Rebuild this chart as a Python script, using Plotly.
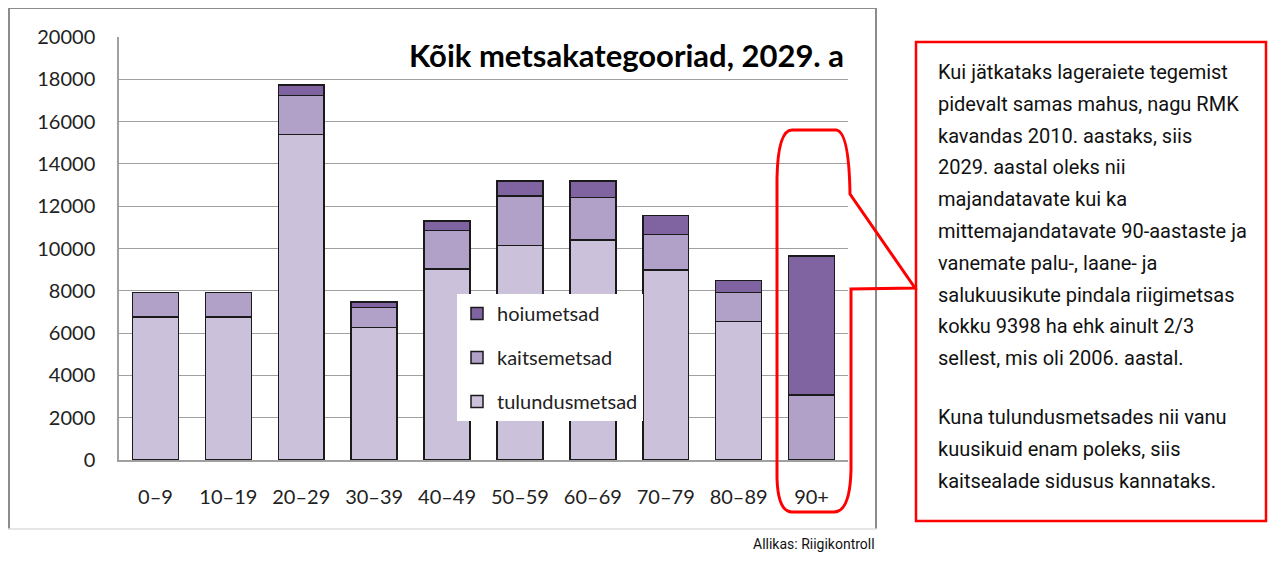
import plotly.graph_objects as go

# age classes of spruce stands (years)
vanus = ["0–9", "10–19", "20–29", "30–39", "40–49", "50–59", "60–69", "70–79", "80–89", "90+"]

# area, ha
tulundusmetsad = [6750, 6750, 15400, 6270, 9020, 10150, 10400, 8980, 6540, 0]
kaitsemetsad = [1180, 1180, 1840, 950, 1820, 2330, 2020, 1690, 1370, 3070]
hoiumetsad = [0, 0, 490, 260, 470, 720, 780, 900, 570, 6580]

kommentaar = [
    "Kui jätkataks lageraiete tegemist",
    "pidevalt samas mahus, nagu RMK",
    "kavandas 2010. aastaks, siis",
    "2029. aastal oleks nii",
    "majandatavate kui ka",
    "mittemajandatavate 90-aastaste ja",
    "vanemate palu-, laane- ja",
    "salukuusikute pindala riigimetsas",
    "kokku 9398 ha ehk ainult 2/3",
    "sellest, mis oli 2006. aastal.",
]
kommentaar2 = [
    "Kuna tulundusmetsades nii vanu",
    "kuusikuid enam poleks, siis",
    "kaitsealade sidusus kannataks.",
]

# the page body has an 8px margin, so the figure is shifted and kept small enough to fit
OFF = 8
W, H = 1276 - 2 * OFF, 561 - 2 * OFF
L, R, T, B = 119, 848, 37, 460   # plot area in reference pixels


def px(x):
    return (x - L) / (R - L)


def py(y):
    return (B - y) / (B - T)


fnt = "Lato, Open Sans, sans-serif"
narrow = "Roboto, sans-serif"
edge = dict(color="#1a1a1a", width=1.5)

fig = go.Figure()
fig.add_trace(go.Bar(x=vanus, y=tulundusmetsad, name="tulundusmetsad", legendrank=3,
                     legendgroup="a", marker=dict(color="#CCC1DA", line=edge)))
fig.add_trace(go.Bar(x=vanus, y=kaitsemetsad, name="kaitsemetsad", legendrank=2,
                     legendgroup="b", marker=dict(color="#B1A0C7", line=edge)))
fig.add_trace(go.Bar(x=vanus, y=hoiumetsad, name="hoiumetsad", legendrank=1,
                     legendgroup="c", marker=dict(color="#8064A2", line=edge)))

shapes = [
    # outer chart frame
    dict(type="line", xref="paper", yref="paper", x0=px(8), x1=px(877), y0=py(8), y1=py(8),
         line=dict(color="#8c8c8c", width=2)),
    dict(type="line", xref="paper", yref="paper", x0=px(9), x1=px(9), y0=py(8), y1=py(529),
         line=dict(color="#8c8c8c", width=2)),
    dict(type="line", xref="paper", yref="paper", x0=px(876), x1=px(876), y0=py(8), y1=py(529),
         line=dict(color="#8c8c8c", width=2)),
    dict(type="line", xref="paper", yref="paper", x0=px(8), x1=px(877), y0=py(529), y1=py(529),
         line=dict(color="#dddddd", width=1.5)),
    # comment box
    dict(type="rect", xref="paper", yref="paper", x0=px(916), x1=px(1266), y0=py(42), y1=py(521),
         line=dict(color="#ff0000", width=2.5)),
]

pts = [("M", 777, 300), ("L", 777, 178), ("Q", 778, 130), ("", 792, 130), ("L", 836, 130),
       ("Q", 849, 131), ("", 850, 194), ("L", 915, 288), ("L", 851, 289), ("L", 851, 470),
       ("Q", 850, 512), ("", 834, 512), ("L", 792, 512), ("Q", 778, 512), ("", 777, 478)]
path = " ".join(f"{c} {px(x):.5f},{py(y):.5f}".strip() for c, x, y in pts) + " Z"
shapes.append(dict(type="path", xref="paper", yref="paper", path=path,
                   line=dict(color="#ff0000", width=3)))

annotations = [
    dict(text="<b>Kõik metsakategooriad, 2029. a</b>", xref="paper", yref="paper",
         x=px(846), y=py(55), xanchor="right", yanchor="middle", showarrow=False,
         font=dict(family=fnt, size=31, color="#000000")),
    dict(text="Allikas: Riigikontroll", xref="paper", yref="paper", x=px(877), y=py(544),
         xanchor="right", yanchor="middle", showarrow=False,
         font=dict(family=narrow, size=14, color="#111111")),
]
for i, rida in enumerate(kommentaar):
    annotations.append(dict(text=rida, xref="paper", yref="paper", x=px(936), y=py(72 + i * 31.8),
                            xanchor="left", yanchor="middle", showarrow=False,
                            font=dict(family=narrow, size=20, color="#111111")))
for i, rida in enumerate(kommentaar2):
    annotations.append(dict(text=rida, xref="paper", yref="paper", x=px(936), y=py(417 + i * 31.8),
                            xanchor="left", yanchor="middle", showarrow=False,
                            font=dict(family=narrow, size=20, color="#111111")))

fig.update_layout(
    width=W, height=H,
    margin=dict(l=L - OFF, r=W - (R - OFF), t=T - OFF, b=H - (B - OFF)),
    barmode="stack", bargap=0.37,
    plot_bgcolor="white", paper_bgcolor="white",
    font=dict(family=fnt, size=20, color="#222222"),
    showlegend=True,
    legend=dict(x=px(457), y=py(294), xanchor="left", yanchor="top",
                traceorder="grouped", tracegroupgap=15, itemwidth=30, bgcolor="white",
                font=dict(size=20, color="#222222")),
    xaxis=dict(range=[-0.5, 9.5], showgrid=False, showline=True, linecolor="#a0a0a0",
               linewidth=1.5, ticks="", ticklabelstandoff=18, fixedrange=True),
    yaxis=dict(range=[0, 20000], dtick=2000, showgrid=True, gridcolor="#a0a0a0", gridwidth=1.2,
               showline=True, linecolor="#a0a0a0", linewidth=1.5, zeroline=False,
               ticks="", ticklabelstandoff=18, tickformat="d"),
    shapes=shapes,
    annotations=annotations,
)

fig.write_html("out.html")
